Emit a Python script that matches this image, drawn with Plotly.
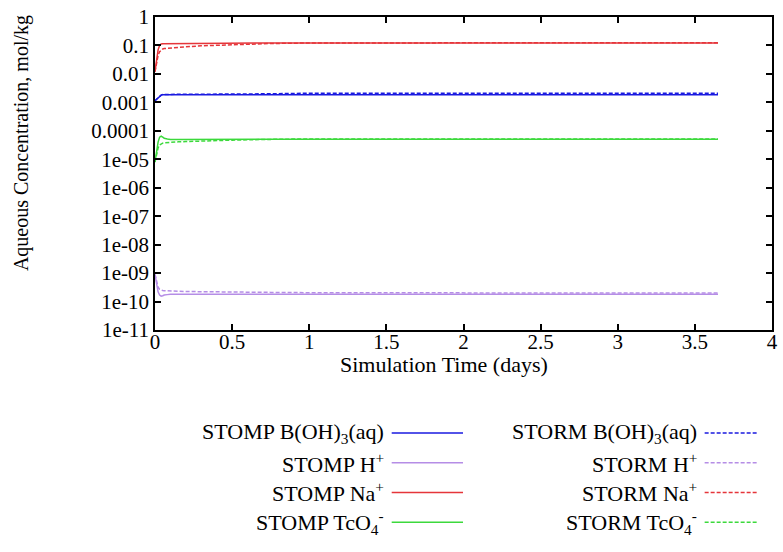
import plotly.graph_objects as go

# Simulation time (days)
time_days = [0, 0.01, 0.02, 0.03, 0.04, 0.05, 0.06, 0.08, 0.1, 0.15, 0.2, 0.3,
             0.5, 0.75, 1.0, 1.5, 2.0, 2.5, 3.0, 3.65]

# Aqueous concentrations (mol/kg)
stomp_boh3 = [0.00115, 0.0013, 0.0015, 0.0017, 0.0018, 0.00185, 0.00185, 0.00185, 0.00185, 0.00185,
              0.00185, 0.00185, 0.00185, 0.00185, 0.00185, 0.00185, 0.00185, 0.00185, 0.00185, 0.00185]
storm_boh3 = [0.00115, 0.0013, 0.0015, 0.0017, 0.0018, 0.0019, 0.0019, 0.0019, 0.0019, 0.0019,
              0.00195, 0.00195, 0.002, 0.002, 0.0021, 0.0021, 0.0021, 0.0021, 0.0021, 0.0021]
stomp_h = [9e-10, 4e-10, 2.2e-10, 1.7e-10, 1.55e-10, 1.6e-10, 1.7e-10, 1.75e-10, 1.8e-10, 1.8e-10,
           1.8e-10, 1.8e-10, 1.8e-10, 1.8e-10, 1.8e-10, 1.8e-10, 1.8e-10, 1.8e-10, 1.8e-10, 1.8e-10]
storm_h = [9e-10, 5e-10, 3.2e-10, 2.7e-10, 2.5e-10, 2.45e-10, 2.4e-10, 2.4e-10, 2.35e-10, 2.3e-10,
           2.25e-10, 2.2e-10, 2.15e-10, 2.1e-10, 2.05e-10, 2.0e-10, 2.0e-10, 2.0e-10, 2.0e-10, 2.0e-10]
stomp_na = [0.012, 0.03, 0.07, 0.10, 0.112, 0.115, 0.115, 0.116, 0.117, 0.118,
            0.119, 0.12, 0.121, 0.122, 0.123, 0.123, 0.123, 0.123, 0.123, 0.123]
storm_na = [0.012, 0.025, 0.045, 0.06, 0.07, 0.075, 0.078, 0.08, 0.082, 0.086,
            0.09, 0.097, 0.108, 0.117, 0.122, 0.124, 0.125, 0.125, 0.125, 0.125]
stomp_tco4 = [8e-6, 2e-5, 4e-5, 6e-5, 6.5e-5, 6e-5, 5.5e-5, 5.2e-5, 5e-5, 5e-5,
              5e-5, 5e-5, 5e-5, 5e-5, 5.1e-5, 5.1e-5, 5.1e-5, 5.1e-5, 5.1e-5, 5.1e-5]
storm_tco4 = [8e-6, 1.5e-5, 2.5e-5, 3.2e-5, 3.5e-5, 3.7e-5, 3.8e-5, 3.9e-5, 4e-5, 4.1e-5,
              4.2e-5, 4.4e-5, 4.7e-5, 5e-5, 5.2e-5, 5.2e-5, 5.2e-5, 5.2e-5, 5.2e-5, 5.2e-5]

x_tick_vals = [0, 0.5, 1, 1.5, 2, 2.5, 3, 3.5, 4]
x_tick_text = ["0", "0.5", "1", "1.5", "2", "2.5", "3", "3.5", "4"]
y_tick_vals = [1e-11, 1e-10, 1e-09, 1e-08, 1e-07, 1e-06, 1e-05, 1e-04, 1e-03, 1e-02, 1e-01, 1]
y_tick_text = ["1e-11", "1e-10", "1e-09", "1e-08", "1e-07", "1e-06", "1e-05",
               "0.0001", "0.001", "0.01", "0.1", "1"]

BLUE = "#1a1ae0"
PURPLE = "#b58de6"
RED = "#e5353a"
GREEN = "#3cd93c"
FONT = "Liberation Serif"
SHORT_DASH = "4px,2px"

series = [
    ("STOMP B(OH)<sub>3</sub>(aq)", stomp_boh3, BLUE, "solid"),
    ("STORM B(OH)<sub>3</sub>(aq)", storm_boh3, BLUE, SHORT_DASH),
    ("STOMP H<sup>+</sup>", stomp_h, PURPLE, "solid"),
    ("STORM H<sup>+</sup>", storm_h, PURPLE, SHORT_DASH),
    ("STOMP Na<sup>+</sup>", stomp_na, RED, "solid"),
    ("STORM Na<sup>+</sup>", storm_na, RED, SHORT_DASH),
    ("STOMP TcO<sub>4</sub><sup>-</sup>", stomp_tco4, GREEN, "solid"),
    ("STORM TcO<sub>4</sub><sup>-</sup>", storm_tco4, GREEN, SHORT_DASH),
]

W, H = 783, 552
L, R, T, B = 155, 5, 14, 222

fig = go.Figure()
for name, vals, color, dash in series:
    fig.add_trace(go.Scatter(x=time_days, y=vals, mode="lines", name=name,
                             line=dict(color=color, width=1.5, dash=dash),
                             showlegend=False))

plot_w = W - L - R
plot_h = H - T - B


def px_x(px):
    return (px - L) / plot_w


def px_y(py):
    return (H - B - py) / plot_h


# Legend below the plot: label right-aligned, line sample to its right
row_y = [434, 464, 494, 524]
columns = [(388, 394, 466), (704, 710, 763)]
annotations = []
shapes = []
for i, (name, vals, color, dash) in enumerate(series):
    row = i // 2
    col = i % 2
    text_right, line_x0, line_x1 = columns[col]
    y = row_y[row]
    annotations.append(dict(
        x=px_x(text_right), y=px_y(y), xref="paper", yref="paper",
        text=name, showarrow=False, xanchor="right", yanchor="middle",
        font=dict(family=FONT, size=22, color="#000000")))
    shapes.append(dict(
        type="line", xref="paper", yref="paper",
        x0=px_x(line_x0), x1=px_x(line_x1), y0=px_y(y), y1=px_y(y),
        line=dict(color=color, width=1.5, dash=dash)))

# Axis titles
annotations.append(dict(
    x=px_x(447), y=px_y(365), xref="paper", yref="paper",
    text="Simulation Time (days)", showarrow=False,
    xanchor="center", yanchor="middle",
    font=dict(family=FONT, size=22, color="#000000")))
annotations.append(dict(
    x=px_x(21), y=px_y(141), xref="paper", yref="paper",
    text="Aqueous Concentration, mol/kg", showarrow=False, textangle=-90,
    xanchor="center", yanchor="middle",
    font=dict(family=FONT, size=20, color="#000000")))

axis_common = dict(
    showgrid=False, zeroline=False, showline=True, linecolor="#000000",
    linewidth=1.5, mirror="ticks", ticks="inside", ticklen=6, tickwidth=1.5,
    tickcolor="#000000", tickfont=dict(family=FONT, size=21, color="#000000"),
)

fig.update_layout(
    width=W, height=H,
    margin=dict(l=L, r=R, t=T, b=B, pad=0),
    paper_bgcolor="#ffffff", plot_bgcolor="#ffffff",
    xaxis=dict(range=[0, 4], tickvals=x_tick_vals, ticktext=x_tick_text,
               ticklabelstandoff=-8, **axis_common),
    yaxis=dict(type="log", range=[-11, 0], tickvals=y_tick_vals, ticktext=y_tick_text,
               **axis_common),
    annotations=annotations,
    shapes=shapes,
)

fig.write_html("out.html")
